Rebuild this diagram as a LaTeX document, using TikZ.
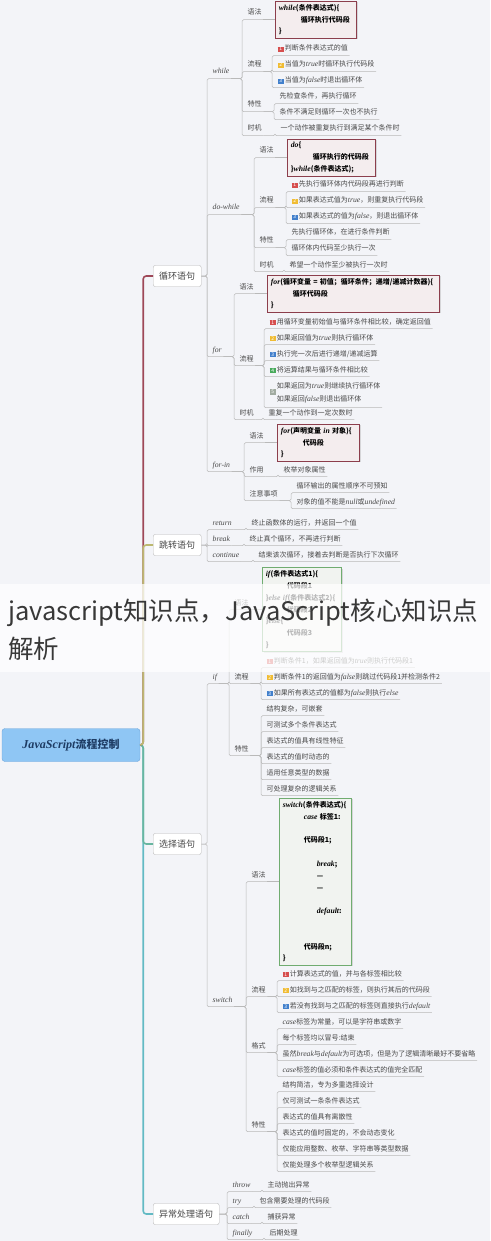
\documentclass[tikz,border=0pt]{standalone}
\usepackage{fontspec}
\usepackage{xcolor}
\usetikzlibrary{positioning, calc, shadows}
\setmainfont{Noto Sans CJK SC}
\newfontfamily\kwfont{Liberation Serif}[Scale=1.1]
\definecolor{canvasGray}{RGB}{243,244,248}
\definecolor{rootBlue}{RGB}{143,198,244}
\definecolor{rootEdge}{RGB}{110,165,220}
\definecolor{rootInk}{RGB}{30,60,100}
\definecolor{loopRed}{RGB}{158,72,88}
\definecolor{jumpOlive}{RGB}{188,184,112}
\definecolor{choiceTeal}{RGB}{104,182,160}
\definecolor{errorTeal}{RGB}{98,186,196}
\definecolor{lineGray}{RGB}{185,185,185}
\definecolor{inkGray}{RGB}{72,72,72}
\definecolor{codeRed}{RGB}{140,62,76}
\definecolor{codeRedFill}{RGB}{244,237,238}
\definecolor{codeGreen}{RGB}{112,172,112}
\definecolor{codeGreenFill}{RGB}{241,243,240}
\definecolor{badgeRed}{RGB}{214,78,78}
\definecolor{badgeYellow}{RGB}{240,188,52}
\definecolor{badgeBlue}{RGB}{66,128,204}
\definecolor{badgeGreen}{RGB}{72,170,92}
\definecolor{badgeGray}{RGB}{160,170,160}
\newcommand{\kw}[1]{{\kwfont\itshape #1}}
\newcommand{\badge}[2]{{\setlength{\fboxsep}{0.7pt}\colorbox{#1}{\makebox[4.6pt]{\fontsize{5}{5}\selectfont\color{white}#2}}}\hspace{1.2pt}}

\begin{document}
\begin{tikzpicture}[x=1pt, y=-1pt,
    tp/.style={anchor=west, inner xsep=1.5pt, inner ysep=2.5pt, text height=6pt, text depth=2pt, font=\fontsize{7}{9}\selectfont, text=inkGray},
    tplong/.style={anchor=west, inner xsep=1.5pt, inner ysep=2.5pt, font=\fontsize{7}{13}\selectfont, text=inkGray},
    major/.style={anchor=west, draw=lineGray, fill=white, rounded corners=2pt, inner xsep=6pt, minimum height=21pt, font=\fontsize{9}{11}\selectfont, text=inkGray},
    codebox/.style={draw=codeRed, fill=codeRedFill, line width=0.9pt, inner sep=3pt, align=left, font=\fontsize{7}{11.8}\selectfont\bfseries, drop shadow={shadow xshift=1pt, shadow yshift=-1pt, opacity=0.25}},
    greenbox/.style={codebox, draw=codeGreen, fill=codeGreenFill},
    link/.style={draw=lineGray, line width=0.5pt, rounded corners=1.5pt},
    trunk/.style={line width=1.6pt, rounded corners=3pt}]
  \useasboundingbox (0,0) rectangle (490,1241);
  \fill[canvasGray] (0,0) rectangle (490,1241);

  \node[draw=rootEdge, fill=rootBlue, rounded corners=3pt, minimum width=138pt, minimum height=33pt, font=\fontsize{11}{13}\selectfont\bfseries, text=rootInk] (root) at (71,745) {\kw{JavaScript}流程控制};
  \node[major] (loop) at (153,276) {循环语句};
  \node[major] (jump) at (153,545) {跳转语句};
  \node[major] (choice) at (153,844) {选择语句};
  \node[major] (error) at (153,1214) {异常处理语句};

  % loops
  \node[tp] (while) at (211,72) {\kw{while}};
  \node[tp] (dowhile) at (211,208) {\kw{do-while}};
  \node[tp] (for) at (211,350) {\kw{for}};
  \node[tp] (forin) at (211,465) {\kw{for-in}};

  \node[tp] (wsyn) at (246,13) {语法};
  \node[codebox, text width=75pt, right=12pt of wsyn.south east] (wbox) {\kw{while}(条件表达式)\{\\ \hspace*{22pt}循环执行代码段\\ \}};
  \node[tp] (wflow) at (246,65) {流程};
  \node[tp] (wf1) at (276,49) {\badge{badgeRed}{1}判断条件表达式的值};
  \node[tp] (wf2) at (276,65) {\badge{badgeYellow}{2}当值为\kw{true}时循环执行代码段};
  \node[tp] (wf3) at (276,81) {\badge{badgeBlue}{3}当值为\kw{false}时退出循环体};
  \node[tp] (wtrait) at (246,105) {特性};
  \node[tp] (wt1) at (278,97) {先检查条件，再执行循环};
  \node[tp] (wt2) at (278,113) {条件不满足则循环一次也不执行};
  \node[tp] (wtime) at (246,129) {时机};
  \node[tp] (wm1) at (279,129) {一个动作被重复执行到满足某个条件时};

  \node[tp] (dsyn) at (258,151) {语法};
  \node[codebox, text width=82pt, right=12pt of dsyn.south east] (dbox) {\kw{do}\{\\ \hspace*{22pt}循环执行的代码段\\ \}\kw{while}(条件表达式);};
  \node[tp] (dflow) at (258,201) {流程};
  \node[tp] (df1) at (290,185) {\badge{badgeRed}{1}先执行循环体内代码段再进行判断};
  \node[tp] (df2) at (290,201) {\badge{badgeYellow}{2}如果表达式值为\kw{true}，则重复执行代码段};
  \node[tp] (df3) at (290,217) {\badge{badgeBlue}{3}如果表达式的值为\kw{false}，则退出循环体};
  \node[tp] (dtrait) at (258,241) {特性};
  \node[tp] (dt1) at (290,233) {先执行循环体，在进行条件判断};
  \node[tp] (dt2) at (290,249) {循环体内代码至少执行一次};
  \node[tp] (dtime) at (258,265) {时机};
  \node[tp] (dm1) at (288,265) {希望一个动作至少被执行一次时};

  \node[tp] (fsyn) at (238,287) {语法};
  \node[codebox, text width=166pt, right=12pt of fsyn.south east] (fbox) {\kw{for}(循环变量~=~初值；循环条件；递增/递减计数器)\{\\ \hspace*{22pt}循环代码段\\ \}};
  \node[tp] (fflow) at (238,359) {流程};
  \node[tp] (ff1) at (268,322) {\badge{badgeRed}{1}用循环变量初始值与循环条件相比较，确定返回值};
  \node[tp] (ff2) at (268,338) {\badge{badgeYellow}{2}如果返回值为\kw{true}则执行循环体};
  \node[tp] (ff3) at (268,354) {\badge{badgeBlue}{3}执行完一次后进行递增/递减运算};
  \node[tp] (ff4) at (268,370) {\badge{badgeGreen}{4}将运算结果与循环条件相比较};
  \node[tplong] (ff5) at (268,392) {\badge{badgeGray}{5}\begin{tabular}{@{}l@{}}如果返回为\kw{true}则继续执行循环体\\ 如果返回\kw{false}则退出循环体\end{tabular}};
  \node[tp] (ftime) at (238,413) {时机};
  \node[tp] (fm1) at (267,413) {重复一个动作到一定次数时};

  \node[tp] (nsyn) at (248,436) {语法};
  \node[codebox, text width=76pt, right=12pt of nsyn.south east] (nbox) {\kw{for}(声明变量~\kw{in}~对象)\{\\ \hspace*{22pt}代码段\\ \}};
  \node[tp] (nuse) at (248,470) {作用};
  \node[tp] (nu1) at (282,470) {枚举对象属性};
  \node[tp] (nnote) at (248,494) {注意事项};
  \node[tp] (nn1) at (295,486) {循环输出的属性顺序不可预知};
  \node[tp] (nn2) at (295,502) {对象的值不能是\kw{null}或\kw{undefined}};

  % jumps
  \node[tp] (ret) at (211,523) {\kw{return}};
  \node[tp] (ret1) at (250,523) {终止函数体的运行，并返回一个值};
  \node[tp] (brk) at (211,539) {\kw{break}};
  \node[tp] (brk1) at (248,539) {终止真个循环，不再进行判断};
  \node[tp] (cont) at (211,555) {\kw{continue}};
  \node[tp] (cont1) at (257,555) {结束该次循环，接着去判断是否执行下次循环};

  % choices
  \node[tp] (if) at (211,677) {\kw{if}};
  \node[tp] (isyn) at (233,603) {语法};
  \node[greenbox, text width=73pt, right=12pt of isyn.south east] (ibox) {\kw{if}(条件表达式1)\{\\ \hspace*{21pt}代码段1\\ \}\kw{else~if}(条件表达式2)\{\\ \hspace*{21pt}代码段2\\ \}\kw{else}\{\\ \hspace*{21pt}代码段3\\ \}};
  \node[tp] (iflow) at (233,677) {流程};
  \node[tp] (if1) at (265,661) {\badge{badgeRed}{1}判断条件1，如果返回值为\kw{true}则执行代码段1};
  \node[tp] (if2) at (265,677) {\badge{badgeYellow}{2}判断条件1的返回值为\kw{false}则跳过代码段1并检测条件2};
  \node[tp] (if3) at (265,693) {\badge{badgeBlue}{3}如果所有表达式的值都为\kw{false}则执行\kw{else}};
  \node[tp] (itrait) at (233,749) {特性};
  \node[tp] (it1) at (265,709) {结构复杂，可嵌套};
  \node[tp] (it2) at (265,725) {可测试多个条件表达式};
  \node[tp] (it3) at (265,741) {表达式的值具有线性特征};
  \node[tp] (it4) at (265,757) {表达式的值时动态的};
  \node[tp] (it5) at (265,773) {适用任意类型的数据};
  \node[tp] (it6) at (265,789) {可处理复杂的逻辑关系};

  \node[tp] (switch) at (211,1000) {\kw{switch}};
  \node[tp] (ssyn) at (250,875) {语法};
  \node[greenbox, text width=66pt, right=12pt of ssyn.south east] (sbox) {\kw{switch}(条件表达式)\{\\ \hspace*{21pt}\kw{case} 标签1:\\ ~\\ \hspace*{21pt}代码段1;\\ ~\\ \hspace*{34pt}\kw{break};\\ \hspace*{34pt}—\\ \hspace*{34pt}—\\ ~\\ \hspace*{34pt}\kw{default}:\\ ~\\ ~\\ \hspace*{21pt}代码段n;\\ \}};
  \node[tp] (sflow) at (250,990) {流程};
  \node[tp] (sf1) at (281,974) {\badge{badgeRed}{1}计算表达式的值，并与各标签相比较};
  \node[tp] (sf2) at (281,990) {\badge{badgeYellow}{2}如找到与之匹配的标签，则执行其后的代码段};
  \node[tp] (sf3) at (281,1006) {\badge{badgeBlue}{3}若没有找到与之匹配的标签则直接执行\kw{default}};
  \node[tp] (sfmt) at (250,1046) {格式};
  \node[tp] (sm1) at (281,1022) {\kw{case}标签为常量，可以是字符串或数字};
  \node[tp] (sm2) at (281,1038) {每个标签均以冒号:结束};
  \node[tp] (sm3) at (281,1054) {虽然\kw{break}与\kw{default}为可选项，但是为了逻辑清晰最好不要省略};
  \node[tp] (sm4) at (281,1070) {\kw{case}标签的值必须和条件表达式的值完全匹配};
  \node[tp] (strait) at (250,1125) {特性};
  \node[tp] (st1) at (281,1085) {结构简洁，专为多重选择设计};
  \node[tp] (st2) at (281,1101) {仅可测试一条条件表达式};
  \node[tp] (st3) at (281,1117) {表达式的值具有离散性};
  \node[tp] (st4) at (281,1133) {表达式的值时固定的，不会动态变化};
  \node[tp] (st5) at (281,1149) {仅能应用整数、枚举、字符串等类型数据};
  \node[tp] (st6) at (281,1165) {仅能处理多个枚举型逻辑关系};

  % exceptions
  \node[tp] (throw) at (231,1185) {\kw{throw}};
  \node[tp] (throw1) at (266,1185) {主动抛出异常};
  \node[tp] (try) at (231,1201) {\kw{try}};
  \node[tp] (try1) at (258,1201) {包含需要处理的代码段};
  \node[tp] (catch) at (231,1217) {\kw{catch}};
  \node[tp] (catch1) at (266,1217) {捕获异常};
  \node[tp] (finally) at (231,1233) {\kw{finally}};
  \node[tp] (finally1) at (268,1233) {后期处理};

  % branches
  \draw[trunk, errorTeal] (root.east) -- ++(3,0) |- (error.west);
  \draw[trunk, choiceTeal] (root.east) -- ++(3,0) |- (choice.west);
  \draw[trunk, loopRed] (root.east) -- ++(3,0) |- (loop.west);
  \draw[trunk, jumpOlive] (root.east) -- ++(3,0) |- (jump.west);

  \foreach \src/\kids in {loop/{while,dowhile,for,forin}, jump/{ret,brk,cont}, choice/{if,switch}, error/{throw,try,catch,finally}}
    \foreach \kid in \kids
      \draw[link] (\src.east) -- ([xshift=-4pt]\kid.south west |- \src.east) |- (\kid.south west) -- (\kid.south east);

  \foreach \src/\kids in {while/{wsyn,wflow,wtrait,wtime}, wflow/{wf1,wf2,wf3}, wtrait/{wt1,wt2}, wtime/{wm1},
      dowhile/{dsyn,dflow,dtrait,dtime}, dflow/{df1,df2,df3}, dtrait/{dt1,dt2}, dtime/{dm1},
      for/{fsyn,fflow,ftime}, fflow/{ff1,ff2,ff3,ff4,ff5}, ftime/{fm1},
      forin/{nsyn,nuse,nnote}, nuse/{nu1}, nnote/{nn1,nn2},
      ret/{ret1}, brk/{brk1}, cont/{cont1},
      if/{isyn,iflow,itrait}, iflow/{if1,if2,if3}, itrait/{it1,it2,it3,it4,it5,it6},
      switch/{ssyn,sflow,sfmt,strait}, sflow/{sf1,sf2,sf3}, sfmt/{sm1,sm2,sm3,sm4}, strait/{st1,st2,st3,st4,st5,st6},
      throw/{throw1}, try/{try1}, catch/{catch1}, finally/{finally1}}
    \foreach \kid in \kids
      \draw[link] (\src.south east) -- ([xshift=-4pt]\kid.south west |- \src.south east) |- (\kid.south west) -- (\kid.south east);

  \foreach \lbl/\code in {wsyn/wbox, dsyn/dbox, fsyn/fbox, nsyn/nbox, isyn/ibox, ssyn/sbox}
    \draw[link] (\lbl.south east) -- (\code.west);

  % banner
  \fill[white, opacity=0.72] (0,584) rectangle (490,672);
  \node[anchor=north west, align=left, inner sep=0pt, font=\fontsize{25.5}{38}\selectfont, text=black!78] (title) at (8,599) {javascript知识点，JavaScript核心知识点\\ 解析};
\end{tikzpicture}
\end{document}
